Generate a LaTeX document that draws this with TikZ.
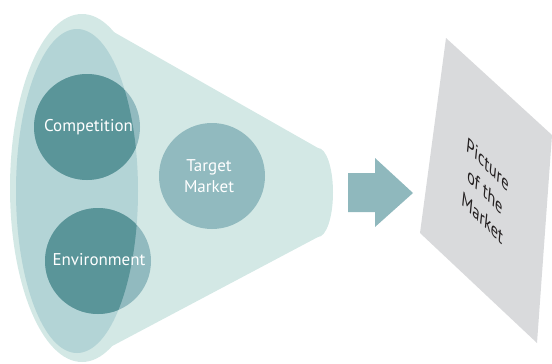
\documentclass[tikz,border=0pt]{standalone}
\usepackage{fontspec}
\setmainfont{PT Sans}
\definecolor{funnel}{HTML}{D3E8E5}
\definecolor{inner}{HTML}{B3D4D6}
\definecolor{circ}{HTML}{91BABF}
\definecolor{dark}{HTML}{5A9599}
\definecolor{arrowc}{HTML}{8FB8BD}
\definecolor{plane}{HTML}{D9DADC}
\definecolor{ink}{HTML}{231F20}
\begin{document}
\begin{tikzpicture}[x=1pt,y=-1pt,
  lbl/.style={text=white,font=\fontsize{17}{21}\selectfont,align=center,inner sep=0pt},
  plbl/.style={text=ink,font=\fontsize{20}{27}\selectfont,align=center,inner sep=0pt}]
\useasboundingbox (0,0) rectangle (552,364);
% funnel
\fill[funnel] (82,188) ellipse [x radius=72, y radius=174];
\fill[funnel] (82,14) -- (318,148) -- (318,237) -- (82,362) -- cycle;
\fill[funnel] (318,192.5) ellipse [x radius=15, y radius=44.5];
% inner ellipse
\fill[inner] (77,191) ellipse [x radius=61, y radius=162];
% circles
\fill[circ] (87,127) circle [radius=53];
\fill[circ] (98,261) circle [radius=53];
\fill[circ] (212,176) circle [radius=53];
\begin{scope}
  \clip (77,191) ellipse [x radius=61, y radius=162];
  \fill[dark] (87,127) circle [radius=53];
  \fill[dark] (98,261) circle [radius=53];
\end{scope}
\node[lbl] (comp) at (88.5,127) {Competition};
\node[lbl] (env) at (99,260) {Environment};
\node[lbl] (tm) at (209,176.5) {Target\\Market};
% arrow
\fill[arrowc] (348,173) -- (375,173) -- (375,158) -- (413,193) -- (375,227) -- (375,212) -- (348,212) -- cycle;
% picture plane
\fill[plane] (446,38) -- (552,135) -- (537,343) -- (420,233) -- cycle;
\begin{scope}[shift={(485,191)}]
  \node[plbl,cm={0.7,-0.7,0.1,0.99,(0,0)},transform shape] (pic) at (0,0) {Picture\\of the\\Market};
\end{scope}
\end{tikzpicture}
\end{document}
